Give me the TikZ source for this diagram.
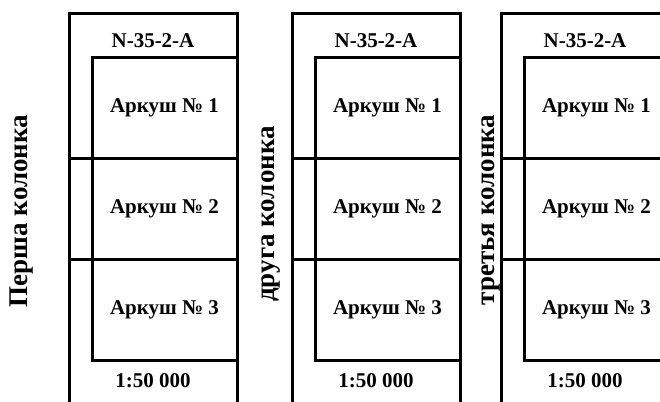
\documentclass[tikz,border=0pt]{standalone}
\usepackage{fontspec}
\setmainfont{Liberation Serif}
\usetikzlibrary{positioning}

\tikzset{
  frame/.style={line width=3pt},
  sheettext/.style={font=\bfseries\fontsize{21}{25}\selectfont},
  coltext/.style={font=\bfseries\fontsize{27}{32}\selectfont, rotate=90},
}

\begin{document}
\begin{tikzpicture}[x=1pt, y=-1pt]
\clip (0,0) rectangle (660,401);

% frames and sheets of each column
\foreach \cx/\cn in {69/a, 292/b, 501/c}{
  \draw[frame] (\cx,405) -- (\cx,14) -- (\cx+168,14) -- (\cx+168,405);
  \draw[frame] (\cx+168,360) -- (\cx+23,360) -- (\cx+23,58) -- (\cx+168,58);
  \draw[frame] (\cx,158) -- (\cx+168,158);
  \draw[frame] (\cx,259) -- (\cx+168,259);
  \node[sheettext] (title-\cn) at (\cx+84,41) {N-35-2-A};
  \node[sheettext] (sheet1-\cn) at (\cx+95.5,108) {Аркуш № 1};
  \node[sheettext] (sheet2-\cn) at (\cx+95.5,208.5) {Аркуш № 2};
  \node[sheettext] (sheet3-\cn) at (\cx+95.5,309.5) {Аркуш № 3};
  \node[sheettext] (scale-\cn) at (\cx+84,381) {1:50 000};
}

% column names
\node[coltext] (col-a) at (22,211) {Перша колонка};
\node[coltext] (col-b) at (271,214) {друга колонка};
\node[coltext] (col-c) at (491,210) {третья колонка};
\end{tikzpicture}
\end{document}
